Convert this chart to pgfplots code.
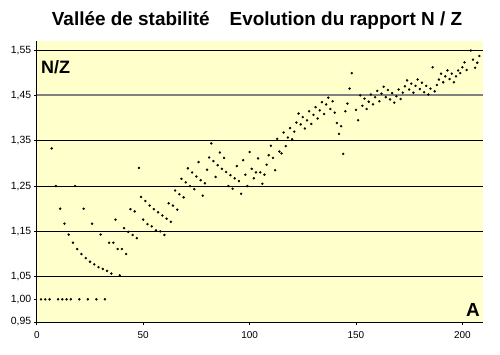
\documentclass[border=0pt]{standalone}
\usepackage{pgfplots}
\pgfplotsset{compat=1.18}
\usepackage{pgfplotstable}
\usepackage{fontspec}
\setmainfont{Liberation Sans}
\definecolor{plotbg}{RGB}{255,255,204}
\definecolor{grayline}{RGB}{128,128,128}

\pgfplotstableread{
A r
2 1.000
4 1.000
6 1.000
7 1.333
9 1.250
10 1.000
11 1.200
12 1.000
13 1.167
14 1.000
15 1.143
16 1.000
17 1.125
18 1.250
19 1.111
20 1.000
21 1.100
22 1.200
23 1.091
24 1.000
25 1.083
26 1.167
27 1.077
28 1.000
29 1.071
30 1.143
31 1.067
32 1.000
33 1.063
34 1.125
35 1.057
36 1.125
37 1.176
38 1.111
39 1.053
40 1.111
41 1.157
42 1.100
43 1.149
44 1.199
45 1.142
46 1.194
47 1.135
48 1.290
49 1.226
50 1.176
51 1.217
52 1.166
53 1.207
54 1.161
55 1.199
56 1.152
57 1.192
58 1.150
59 1.185
60 1.142
61 1.178
62 1.212
63 1.171
64 1.207
65 1.240
66 1.198
67 1.232
68 1.266
69 1.225
70 1.258
71 1.289
72 1.250
73 1.280
74 1.243
75 1.271
76 1.303
77 1.263
78 1.229
79 1.256
80 1.286
81 1.313
82 1.344
83 1.305
84 1.270
85 1.296
86 1.324
87 1.288
88 1.312
89 1.281
90 1.250
91 1.274
92 1.244
93 1.267
94 1.294
95 1.261
96 1.233
97 1.307
98 1.275
99 1.250
100 1.325
101 1.288
102 1.267
103 1.280
104 1.311
105 1.280
106 1.255
107 1.275
108 1.297
109 1.318
110 1.339
111 1.312
112 1.285
113 1.354
114 1.326
115 1.322
116 1.368
117 1.338
118 1.357
119 1.378
120 1.353
121 1.370
122 1.390
123 1.410
124 1.386
125 1.402
126 1.377
127 1.395
128 1.415
129 1.387
130 1.407
131 1.424
132 1.399
133 1.417
134 1.435
135 1.409
136 1.430
137 1.445
138 1.420
139 1.437
140 1.412
141 1.389
142 1.365
143 1.382
144 1.321
145 1.415
146 1.432
147 1.465
148 1.499
150 1.418
151 1.395
152 1.450
153 1.427
154 1.443
155 1.420
156 1.436
157 1.452
158 1.430
159 1.446
160 1.460
161 1.437
162 1.454
163 1.469
164 1.446
165 1.462
166 1.441
167 1.455
168 1.434
169 1.448
170 1.463
171 1.442
172 1.456
173 1.470
174 1.483
175 1.463
176 1.476
177 1.456
178 1.471
179 1.485
180 1.464
181 1.478
182 1.457
183 1.471
184 1.452
185 1.465
186 1.512
187 1.459
188 1.473
189 1.485
190 1.498
191 1.479
192 1.492
193 1.505
194 1.486
195 1.498
196 1.479
197 1.492
198 1.505
199 1.499
200 1.512
201 1.523
202 1.506
204 1.549
205 1.529
206 1.511
207 1.522
208 1.537
}\nzdata

\begin{document}
\begin{tikzpicture}[x=1bp,y=1bp]
\path[use as bounding box] (-36.8,-32) rectangle (463.2,322);
\begin{axis}[
  at={(0,0)}, anchor=south west,
  scale only axis, width=446.2bp, height=281bp,
  xmin=0, xmax=209.7, ymin=0.95, ymax=1.57,
  axis x line*=bottom, axis y line*=left,
  axis line style={-, black, line width=0.7bp},
  axis background/.style={fill=plotbg},
  xtick={0,50,100,150,200},
  ytick={0.95,1.05,1.15,1.25,1.35,1.45,1.55},
  extra y ticks={1.00},
  extra y tick style={grid=none},
  ymajorgrids,
  major grid style={black, line width=0.6bp},
  tick align=outside,
  major tick length=3bp,
  tick style={black, line width=0.6bp},
  /pgf/number format/assume math mode=true,
  yticklabel style={font=\fontsize{10.5}{11}\selectfont, xshift=1bp, /pgf/number format/.cd, fixed, fixed zerofill, precision=2, use comma},
  xticklabel style={font=\fontsize{10}{11}\selectfont, yshift=-3bp},
  clip=false,
]
\draw[grayline, line width=2bp] (axis cs:0,1.45) -- (axis cs:209.7,1.45);
\addplot[only marks, mark=*, mark size=1bp, black] table[x=A,y=r]{\nzdata};
\end{axis}
\node[anchor=base west, font=\fontsize{18}{18}\selectfont\bfseries, inner sep=0pt] at (4.2,248.7) {N/Z};
\node[anchor=base east, font=\fontsize{19}{19}\selectfont\bfseries, inner sep=0pt] at (443.2,6) {A};
\node[anchor=base, font=\fontsize{19}{19}\selectfont\bfseries, inner sep=0pt] at (220.2,297) {Vallée de stabilité\hspace{20bp}Evolution du rapport N / Z};
\end{tikzpicture}
\end{document}
